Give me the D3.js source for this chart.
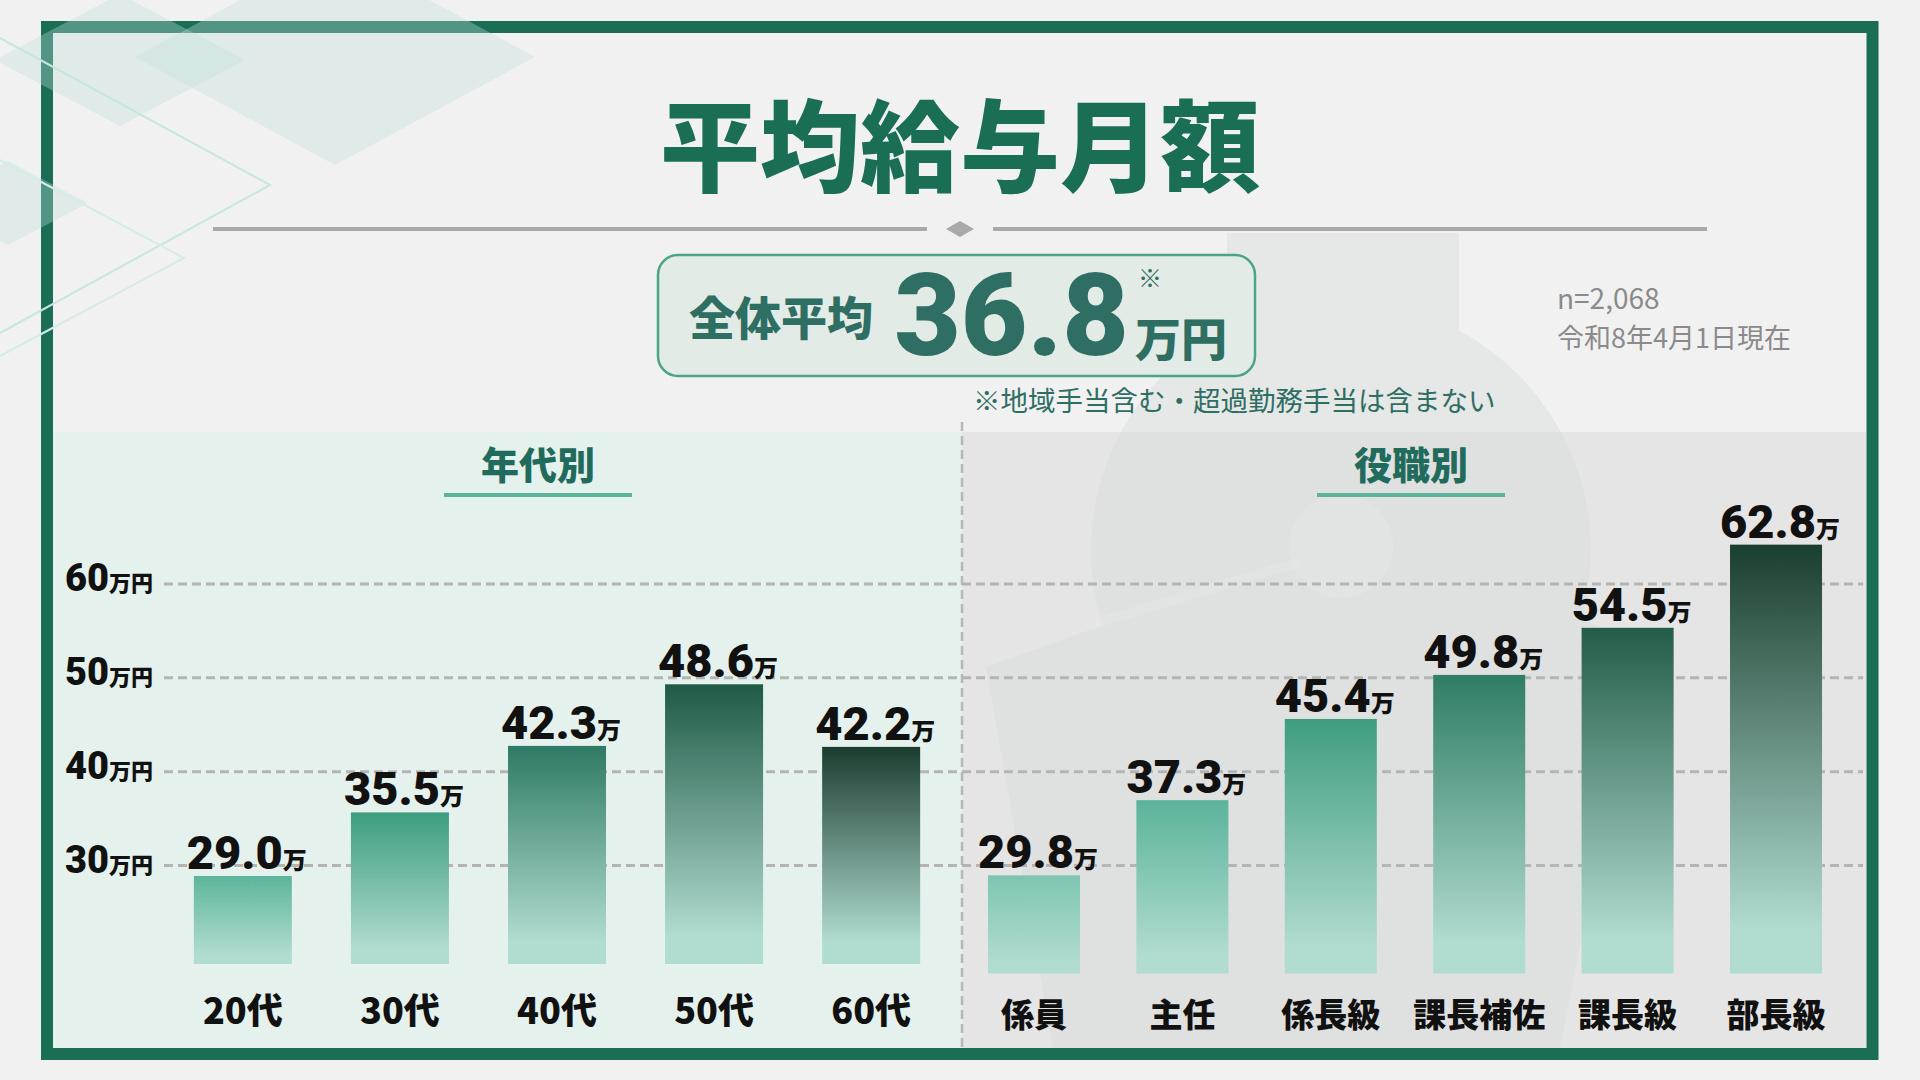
<!DOCTYPE html>
<html lang="ja">
<head>
<meta charset="utf-8">
<title>平均給与月額</title>
<script src="https://cdn.jsdelivr.net/npm/d3@7"></script>
<style>
  html, body { margin: 0; padding: 0; background: #f1f1f1; }
  svg { display: block; }
  text { font-family: "Noto Sans CJK JP", "Noto Sans", sans-serif; }
  .num { font-family: Roboto, "Noto Sans", sans-serif; }
</style>
</head>
<body>
<svg id="chart" width="1920" height="1080"></svg>
<script>
// data
const ageCats = ['20代', '30代', '40代', '50代', '60代'];
const ageVals = [29.0, 35.5, 42.3, 48.6, 42.2];
const ageColors = ['#5db59b', '#3d9d7f', '#2f7a65', '#1f5a46', '#1b3d30'];

const posCats = ['係員', '主任', '係長級', '課長補佐', '課長級', '部長級'];
const posVals = [29.8, 37.3, 45.4, 49.8, 54.5, 62.8];
const posColors = ['#7ec5b1', '#5bb39b', '#3f9d7f', '#2f7d65', '#235c48', '#1a3e2f'];

const yTicks = [30, 40, 50, 60];

const titleText = '平均給与月額';
const avgLabel = '全体平均';
const avgValue = '36.8';
const noteText = '※地域手当含む・超過勤務手当は含まない';
const sampleText = 'n=2,068';
const dateText = '令和8年4月1日現在';

const green = '#1a6e56';
const teal = '#2f6e62';
const barBottom = '#b1dcd1';

const svg = d3.select('#chart');
const defs = svg.append('defs');

// background
svg.append('rect').attr('width', 1920).attr('height', 1080).attr('fill', '#f1f1f1');

// faint money-bag like shape on the right
const deco = svg.append('g').attr('fill', '#c8d2ce').attr('opacity', 0.28);
deco.append('rect').attr('x', 1227).attr('y', 233).attr('width', 232).attr('height', 110);
deco.append('polygon').attr('points', '986,667 1341,540 1640,640 1560,1048 1053,1048');
deco.append('circle').attr('cx', 1341).attr('cy', 551).attr('r', 250);
svg.append('circle').attr('cx', 1341).attr('cy', 546).attr('r', 52)
    .attr('fill', '#f4f5f5').attr('opacity', 0.5);
svg.append('line').attr('x1', 1090).attr('y1', 625).attr('x2', 1300).attr('y2', 562)
    .attr('stroke', '#f4f5f5').attr('stroke-width', 10).attr('opacity', 0.45);

// panels
svg.append('rect').attr('x', 53).attr('y', 432).attr('width', 909).attr('height', 616)
    .attr('fill', '#e5f1ec');
svg.append('rect').attr('x', 962).attr('y', 432).attr('width', 904).attr('height', 616)
    .attr('fill', '#d6d6d6').attr('opacity', 0.45);

// frame
svg.append('rect').attr('x', 47).attr('y', 27).attr('width', 1825.5).attr('height', 1027)
    .attr('fill', 'none').attr('stroke', green).attr('stroke-width', 12);

// top-left diamonds
const dia = svg.append('g');
[[120, 60, 125, 66], [335, 57, 200, 108], [8, 203, 80, 42]].forEach(d => {
    dia.append('polygon')
        .attr('points', [[d[0], d[1] - d[3]], [d[0] + d[2], d[1]], [d[0], d[1] + d[3]], [d[0] - d[2], d[1]]].join(' '))
        .attr('fill', '#bfe0da').attr('opacity', 0.35);
});
dia.append('polyline').attr('points', '0,38 270,185 0,333')
    .attr('fill', 'none').attr('stroke', '#c6e6e0').attr('stroke-width', 2);
dia.append('polyline').attr('points', '0,160 184,258 0,356')
    .attr('fill', 'none').attr('stroke', '#d6ece8').attr('stroke-width', 2);

// title
svg.append('text').attr('x', 960).attr('y', 140)
    .attr('text-anchor', 'middle').attr('dominant-baseline', 'central')
    .attr('font-size', 100).attr('font-weight', 900).attr('fill', green)
    .text(titleText);

// divider under title
svg.append('line').attr('x1', 213).attr('x2', 927).attr('y1', 229).attr('y2', 229)
    .attr('stroke', '#a9a9a9').attr('stroke-width', 4);
svg.append('line').attr('x1', 993).attr('x2', 1707).attr('y1', 229).attr('y2', 229)
    .attr('stroke', '#a9a9a9').attr('stroke-width', 4);
svg.append('polygon').attr('points', '946,229 960,221 974,229 960,237').attr('fill', '#a9a9a9');

// overall average box
svg.append('rect').attr('x', 658).attr('y', 255).attr('width', 597).attr('height', 121).attr('rx', 20)
    .attr('fill', '#e3ebe6').attr('stroke', '#4ba486').attr('stroke-width', 2.5);
svg.append('text').attr('x', 689).attr('y', 315).attr('dominant-baseline', 'central')
    .attr('font-size', 46).attr('font-weight', 900).attr('fill', teal).text(avgLabel);
svg.append('text').attr('class', 'num').attr('x', 1129).attr('y', 355)
    .attr('text-anchor', 'end')
    .attr('font-size', 115).attr('font-weight', 900).attr('fill', teal).text(avgValue);
svg.append('text').attr('x', 1135).attr('y', 336).attr('dominant-baseline', 'central')
    .attr('font-size', 46).attr('font-weight', 900).attr('fill', teal).text('万円');
svg.append('text').attr('x', 1138).attr('y', 276).attr('dominant-baseline', 'central')
    .attr('font-size', 24).attr('fill', teal).text('※');

svg.append('text').attr('x', 973).attr('y', 411)
    .attr('font-size', 27.5).attr('fill', teal).text(noteText);

svg.append('text').attr('x', 1557).attr('y', 309)
    .attr('font-family', 'Lato, sans-serif')
    .attr('font-size', 28).attr('fill', '#8a8a8a').text(sampleText);
svg.append('text').attr('x', 1557).attr('y', 348)
    .attr('font-size', 27).attr('fill', '#8a8a8a').text(dateText);

// vertical dashed divider
svg.append('line').attr('x1', 962).attr('x2', 962).attr('y1', 422).attr('y2', 1048)
    .attr('stroke', '#b8b8b8').attr('stroke-width', 2.5).attr('stroke-dasharray', '9,5');

// section titles
function sectionTitle(cx, label) {
    svg.append('text').attr('x', cx).attr('y', 462)
        .attr('text-anchor', 'middle').attr('dominant-baseline', 'central')
        .attr('font-size', 38).attr('font-weight', 900).attr('fill', '#216b5c').text(label);
    svg.append('line').attr('x1', cx - 94).attr('x2', cx + 94).attr('y1', 495).attr('y2', 495)
        .attr('stroke', '#5bb59b').attr('stroke-width', 4);
}
sectionTitle(538, '年代別');
sectionTitle(1411, '役職別');

// scales
const yGrid = d3.scaleLinear().domain([30, 60]).range([865.5, 584]);
const yAge = d3.scaleLinear().domain([20, 60]).range([964, 964 - 40 * 9.78]);
const yPos = d3.scaleLinear().domain([20, 65]).range([973.5, 973.5 - 45 * 10.02]);

const xAge = d3.scaleBand().domain(ageCats).range([164, 950])
    .paddingInner(0.376).paddingOuter(0.19);
const xPos = d3.scaleBand().domain(posCats).range([962, 1848])
    .paddingInner(0.38).paddingOuter(0.175);

// gridlines + y labels
const grid = svg.append('g');
grid.selectAll('line').data(yTicks).join('line')
    .attr('x1', 164).attr('x2', 1863)
    .attr('y1', d => yGrid(d)).attr('y2', d => yGrid(d))
    .attr('stroke', '#b4b4b4').attr('stroke-width', 3).attr('stroke-dasharray', '9,5');
const yl = grid.selectAll('text').data(yTicks).join('text')
    .attr('x', 65).attr('y', d => yGrid(d) + 7).attr('fill', '#111');
yl.append('tspan').attr('class', 'num').attr('font-size', 38).attr('font-weight', 900).text(d => d);
yl.append('tspan').attr('font-size', 22).attr('font-weight', 900).text('万円');

// bars
function drawBars(name, cats, vals, colors, x, y, labelY, labelSize) {
    const g = svg.append('g');
    cats.forEach((c, i) => {
        const grad = defs.append('linearGradient').attr('id', name + i)
            .attr('x1', 0).attr('y1', 0).attr('x2', 0).attr('y2', 1);
        grad.append('stop').attr('offset', 0).attr('stop-color', colors[i]);
        grad.append('stop').attr('offset', 0.9).attr('stop-color', barBottom);
    });
    g.selectAll('rect').data(vals).join('rect')
        .attr('x', (d, i) => x(cats[i]))
        .attr('width', x.bandwidth())
        .attr('y', d => y(d))
        .attr('height', d => y.range()[0] - y(d))
        .attr('fill', (d, i) => 'url(#' + name + i + ')');

    const v = g.selectAll('text.val').data(vals).join('text')
        .attr('class', 'val')
        .attr('x', (d, i) => x(cats[i]) + x.bandwidth() / 2 + 4)
        .attr('y', d => y(d) - 7)
        .attr('text-anchor', 'middle').attr('fill', '#111');
    v.append('tspan').attr('class', 'num').attr('font-size', 47).attr('font-weight', 900).text(d => d.toFixed(1));
    v.append('tspan').attr('font-size', 24).attr('font-weight', 900).text('万');

    g.selectAll('text.cat').data(cats).join('text')
        .attr('class', 'cat')
        .attr('x', d => x(d) + x.bandwidth() / 2)
        .attr('y', labelY)
        .attr('text-anchor', 'middle').attr('dominant-baseline', 'central')
        .attr('font-size', labelSize).attr('font-weight', 900).attr('fill', '#111')
        .text(d => d);
}
drawBars('age', ageCats, ageVals, ageColors, xAge, yAge, 1008, 36);
drawBars('pos', posCats, posVals, posColors, xPos, yPos, 1013, 33);
</script>
</body>
</html>
